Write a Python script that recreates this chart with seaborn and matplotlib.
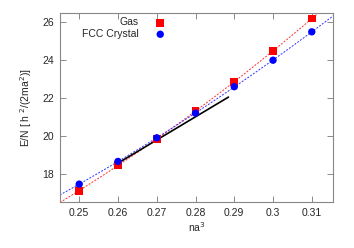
import numpy as np
import pandas as pd
import seaborn as sns
import matplotlib.pyplot as plt

# Data
density = [0.25, 0.26, 0.27, 0.28, 0.29, 0.30, 0.31]
gas_energy = [17.1, 18.45, 19.85, 21.3, 22.85, 24.5, 26.2]
fcc_energy = [17.45, 18.65, 19.9, 21.2, 22.6, 24.0, 25.5]

# common tangent segment (black line)
tangent_x = [0.2605, 0.2885]
tangent_y = [18.62, 22.05]

x_ticks = [0.25, 0.26, 0.27, 0.28, 0.29, 0.30, 0.31]
x_labels = ['0.25', '0.26', '0.27', '0.28', '0.29', '0.3', '0.31']
y_ticks = [18, 20, 22, 24, 26]

sns.set_style("ticks")
plt.rcParams['font.family'] = ['Liberation Sans', 'DejaVu Sans']

fig = plt.figure(figsize=(3.54, 2.48), dpi=100)
ax = fig.add_axes([0.169, 0.185, 0.772, 0.763])

# quadratic fits to each data set
xs = np.linspace(0.245, 0.3155, 100)
fit_gas = np.polyval(np.polyfit(density, gas_energy, 2), xs)
fit_fcc = np.polyval(np.polyfit(density, fcc_energy, 2), xs)
fits = pd.DataFrame({'x': xs, 'gas': fit_gas, 'fcc': fit_fcc})

sns.lineplot(data=fits, x='x', y='gas', ax=ax, color='#ff3030', lw=0.7,
             linestyle=(0, (2, 1.5)), legend=False)
sns.lineplot(data=fits, x='x', y='fcc', ax=ax, color='#3030ff', lw=0.7,
             linestyle=(0, (2, 1.5)), legend=False)
ax.plot(tangent_x, tangent_y, color='black', lw=1.2)

pts = pd.DataFrame({'x': density, 'gas': gas_energy, 'fcc': fcc_energy})
sns.scatterplot(data=pts, x='x', y='gas', ax=ax, marker='s', color='#ff0000',
                s=30, edgecolor='none', label='Gas', zorder=3)
sns.scatterplot(data=pts, x='x', y='fcc', ax=ax, marker='o', color='#0000ff',
                s=28, edgecolor='none', label='FCC Crystal', zorder=4)

ax.set_xlim(0.245, 0.3155)
ax.set_ylim(16.5, 26.5)
ax.set_xticks(x_ticks)
ax.set_xticklabels(x_labels)
ax.set_yticks(y_ticks)
ax.tick_params(direction='in', top=True, right=True, labelsize=7.5,
               length=4, width=0.6, color='#777777', pad=4)
for s in ax.spines.values():
    s.set_color('#888888')
    s.set_linewidth(0.8)

ax.set_xlabel('na$^3$', fontsize=7.5, labelpad=2)
ax.set_ylabel('E/N [ h $^2$/(2ma$^2$)]', fontsize=7.5, labelpad=6)

ax.legend(loc='upper right', bbox_to_anchor=(0.417, 1.02), markerfirst=False,
          frameon=False, fontsize=7.5, handletextpad=1.6, borderpad=0.3,
          labelspacing=0.15, handlelength=1.0)
leg = ax.get_legend()
leg._legend_box.align = 'right'

fig.savefig('out.png', dpi=100)
